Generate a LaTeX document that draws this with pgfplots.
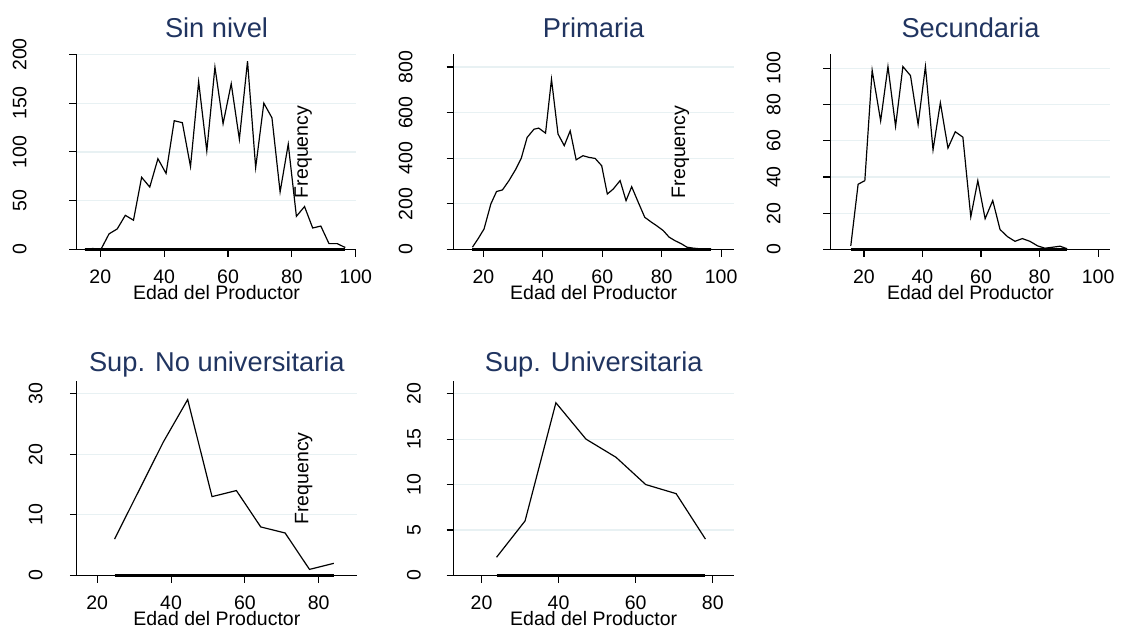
\documentclass[border=0pt]{standalone}
\usepackage{pgfplots}
\pgfplotsset{compat=1.18}
\usepackage{fontspec}
\setmainfont{Liberation Sans}
\definecolor{titlec}{RGB}{32,52,96}
\definecolor{gridc}{RGB}{232,241,243}
\pgfplotsset{
  panel/.style={
    scale only axis, width=140.6pt, height=98pt,
    anchor=south west,
    axis x line*=bottom, axis y line*=left,
    axis line style={-, black, line width=0.55pt},
    tick style={black, line width=0.55pt},
    tick align=outside, major tick length=3.6pt,
    ymin=0, ymajorgrids, xmajorgrids=false,
    grid style={gridc, line width=0.6pt},
    every tick label/.append style={font=\fontsize{9.8}{10}\selectfont},
    /pgf/number format/assume math mode=true,
    /pgf/number format/1000 sep={},
    xticklabel style={yshift=-3.3pt},
    xlabel={Edad del Productor},
    xlabel style={font=\fontsize{9.8}{10}\selectfont, yshift=6.3pt},
    title style={font=\fontsize{13.7}{14}\selectfont, text=titlec, yshift=-1pt},
    scaled ticks=false, clip=false,
  },
  ylab/.style={yticklabel style={rotate=90, anchor=south, inner sep=0pt, yshift=#1}},
  dataline/.style={black, line width=0.6pt, mark=none},
  base/.style={black, line width=1.2pt, mark=none},
}
\newcommand{\freq}{\node[rotate=90, font=\fontsize{9.8}{10}\selectfont] at (rel axis cs:0.81,0.5) {Frequency};}
\begin{document}
\begin{tikzpicture}
\path (0,0) rectangle (560.5pt,316pt);
% Panel 1
\begin{axis}[panel, ylab=21.4pt, at={(38.5pt,190.65pt)}, xmin=12.6, xmax=100.2, ymax=200,
  xtick={20,40,60,80,100}, ytick={0,50,100,150,200}, title={Sin nivel}]
\addplot[base] coordinates {(15.1,0) (96.7,0)};
\addplot[dataline] coordinates {
(15.1,0) (17.65,1) (20.2,0) (22.75,16) (25.3,21) (27.85,35) (30.4,30) (32.95,74)
(35.5,64) (38.05,93) (40.6,78) (43.15,132) (45.7,130) (48.25,85) (50.8,172)
(53.35,101) (55.9,187) (58.45,129) (61.0,170) (63.55,113) (66.1,193) (68.65,84)
(71.2,150) (73.75,135) (76.3,59) (78.85,108) (81.4,34) (83.95,44) (86.5,22)
(89.05,24) (91.6,6) (94.15,6) (96.7,2)};
\freq
\end{axis}
% Panel 2
\begin{axis}[panel, ylab=16.9pt, at={(228pt,190.65pt)}, xmin=10, xmax=104.2, ymax=855,
  xtick={20,40,60,80,100}, ytick={0,200,400,600,800}, title={Primaria}]
\addplot[base] coordinates {(16.3,0) (96.7,0)};
\addplot[dataline] coordinates {
(16.3,10) (18.2,47) (20.2,90) (22.5,200) (24.4,254) (26.4,261) (28.6,302)
(30.8,350) (32.7,399) (34.7,491) (37.0,527) (38.6,532) (40.9,510) (42.9,746)
(45.1,506) (47.2,455) (49.2,520) (51.2,393) (53.5,411) (55.4,404) (57.6,399)
(59.8,367) (61.7,243) (63.7,265) (66.0,302) (68.0,214) (69.9,275) (72.1,207)
(74.3,141) (76.6,119) (78.2,105) (80.5,83) (82.5,54) (84.4,39) (86.6,25)
(88.5,10) (90.5,6) (92.7,3) (96.7,1)};
\freq
\end{axis}
% Panel 3
\begin{axis}[panel, ylab=21.3pt, at={(417.35pt,190.65pt)}, xmin=8.6, xmax=104.2, ymax=107.7,
  xtick={20,40,60,80,100}, ytick={0,20,40,60,80,100}, title={Secundaria}]
\addplot[base] coordinates {(15.5,0) (89.4,0)};
\addplot[dataline] coordinates {
(15.5,2) (18.0,36) (20.3,38) (22.8,99) (25.7,71) (28.2,101) (30.8,68) (33.3,101)
(35.9,96) (38.5,69) (41.0,101) (43.6,55) (46.1,81) (48.7,56) (51.2,65) (53.8,62)
(56.5,18) (58.9,38) (61.4,17) (64.0,27) (66.5,11) (69.1,7) (71.6,4.5) (74.1,6)
(76.7,4.5) (79.3,2) (81.8,0.7) (84.3,1.2) (87.0,1.8) (89.4,0.4)};
\end{axis}
% Panel 4
\begin{axis}[panel, ylab=13.4pt, height=97.5pt, at={(38.65pt,26.85pt)}, xmin=14.5, xmax=90.3, ymax=32,
  xtick={20,40,60,80}, ytick={0,10,20,30}, title={Sup. No universitaria},
  title style={yshift=-6.5pt}]
\addplot[base] coordinates {(24.7,0) (84.1,0)};
\addplot[dataline] coordinates {
(24.7,6) (31.3,14) (37.9,22) (44.5,29) (51.1,13) (57.7,14) (64.3,8) (70.9,7)
(77.5,1) (84.1,2)};
\freq
\end{axis}
% Panel 5
\begin{axis}[panel, ylab=12.75pt, height=97.5pt, at={(228pt,26.85pt)}, xmin=12.8, xmax=85.4, ymax=21.35,
  xtick={20,40,60,80}, ytick={0,5,10,15,20}, title={Sup. Universitaria},
  title style={yshift=-6.5pt}]
\addplot[base] coordinates {(23.9,0) (78.1,0)};
\addplot[dataline] coordinates {
(23.9,2) (31.3,6) (39.3,19) (47.1,15) (54.9,13) (62.6,10) (70.5,9) (78.1,4)};
\end{axis}
\end{tikzpicture}
\end{document}
